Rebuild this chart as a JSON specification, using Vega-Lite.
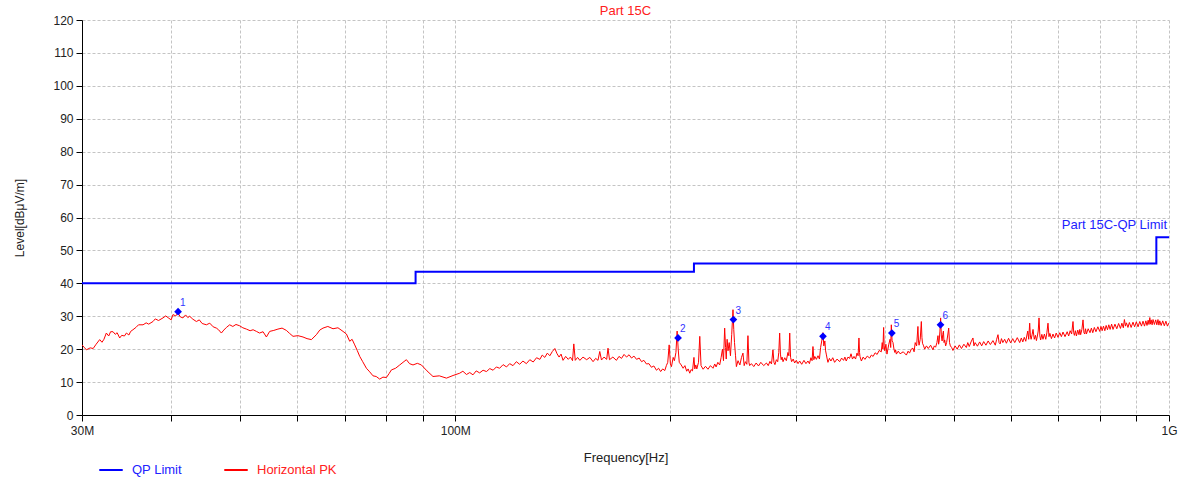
{
  "$schema": "https://vega.github.io/schema/vega-lite/v6.json",
  "width": 1087,
  "height": 395,
  "autosize": "none",
  "padding": {"left": 82, "top": 20, "right": 12, "bottom": 64},
  "background": "white",
  "config": {
    "font": "Liberation Sans",
    "view": {"stroke": null},
    "axis": {
      "labelFont": "Liberation Sans",
      "titleFont": "Liberation Sans",
      "titleFontWeight": "normal",
      "labelColor": "#222222",
      "titleColor": "#222222",
      "domainColor": "#000000",
      "tickColor": "#000000",
      "gridColor": "#c4c4c4",
      "gridDash": [3, 2],
      "gridWidth": 1
    }
  },
  "title": {
    "text": "Part 15C",
    "color": "#ff2020",
    "fontSize": 13,
    "fontWeight": "normal",
    "font": "Liberation Sans",
    "offset": -4
  },
  "datasets": {
    "trace": [
      {"f": 30, "L": 21.3}, {"f": 30.2, "L": 20.6}, {"f": 30.43, "L": 19.8}, {"f": 30.8, "L": 20.4}, {"f": 31.1, "L": 20.2}, {"f": 31.4, "L": 21.5}, {"f": 31.76, "L": 22.9}, {"f": 32.0, "L": 22.1}, {"f": 32.2, "L": 23.0}, {"f": 32.45, "L": 24.9}, {"f": 32.7, "L": 24.0}, {"f": 32.9, "L": 25.3}, {"f": 33.16, "L": 25.3}, {"f": 33.4, "L": 24.5}, {"f": 33.6, "L": 25.0}, {"f": 33.88, "L": 23.4}, {"f": 34.1, "L": 24.2}, {"f": 34.4, "L": 24.0}, {"f": 34.62, "L": 24.9}, {"f": 34.9, "L": 24.3}, {"f": 35.1, "L": 25.4}, {"f": 35.36, "L": 25.9}, {"f": 35.7, "L": 26.6}, {"f": 36.0, "L": 27.4}, {"f": 36.53, "L": 27.4}, {"f": 36.9, "L": 28.0}, {"f": 37.2, "L": 27.6}, {"f": 37.72, "L": 28.4}, {"f": 38.0, "L": 29.2}, {"f": 38.4, "L": 28.7}, {"f": 38.96, "L": 29.5}, {"f": 39.3, "L": 30.1}, {"f": 39.7, "L": 29.4}, {"f": 40.0, "L": 28.9}, {"f": 40.23, "L": 30.5}, {"f": 40.6, "L": 30.1}, {"f": 40.89, "L": 31.0}, {"f": 41.2, "L": 29.8}, {"f": 41.55, "L": 29.5}, {"f": 41.9, "L": 30.4}, {"f": 42.2, "L": 29.6}, {"f": 42.46, "L": 30.0}, {"f": 42.9, "L": 29.1}, {"f": 43.39, "L": 28.4}, {"f": 43.8, "L": 28.9}, {"f": 44.2, "L": 27.8}, {"f": 44.81, "L": 27.4}, {"f": 45.3, "L": 27.9}, {"f": 45.8, "L": 26.8}, {"f": 46.28, "L": 26.4}, {"f": 46.6, "L": 25.9}, {"f": 47.03, "L": 24.9}, {"f": 47.4, "L": 25.8}, {"f": 47.8, "L": 26.6}, {"f": 48.31, "L": 27.4}, {"f": 48.8, "L": 26.9}, {"f": 49.3, "L": 27.5}, {"f": 49.89, "L": 27.1}, {"f": 50.4, "L": 26.5}, {"f": 50.98, "L": 26.1}, {"f": 51.6, "L": 25.6}, {"f": 52.1, "L": 25.9}, {"f": 52.66, "L": 25.4}, {"f": 53.2, "L": 24.9}, {"f": 53.8, "L": 25.3}, {"f": 54.38, "L": 23.7}, {"f": 54.96, "L": 25.4}, {"f": 55.7, "L": 25.7}, {"f": 56.45, "L": 26.1}, {"f": 57.2, "L": 26.4}, {"f": 58.0, "L": 25.7}, {"f": 58.6, "L": 24.8}, {"f": 59.26, "L": 23.9}, {"f": 60.2, "L": 24.1}, {"f": 61.2, "L": 23.7}, {"f": 62.0, "L": 23.2}, {"f": 62.88, "L": 22.9}, {"f": 63.9, "L": 24.4}, {"f": 64.6, "L": 25.8}, {"f": 65.28, "L": 26.4}, {"f": 66.3, "L": 26.9}, {"f": 67.42, "L": 26.2}, {"f": 68.5, "L": 26.5}, {"f": 69.63, "L": 25.4}, {"f": 70.4, "L": 24.6}, {"f": 71.15, "L": 22.4}, {"f": 71.7, "L": 23.0}, {"f": 72.31, "L": 21.3}, {"f": 72.9, "L": 19.6}, {"f": 73.49, "L": 17.8}, {"f": 74.2, "L": 16.2}, {"f": 75.09, "L": 14.2}, {"f": 75.9, "L": 13.1}, {"f": 76.71, "L": 11.9}, {"f": 77.5, "L": 11.7}, {"f": 78.38, "L": 10.9}, {"f": 79.2, "L": 11.5}, {"f": 80.1, "L": 11.4}, {"f": 80.8, "L": 12.6}, {"f": 81.4, "L": 13.7}, {"f": 82.5, "L": 14.2}, {"f": 83.61, "L": 15.2}, {"f": 84.5, "L": 16.0}, {"f": 85.43, "L": 16.8}, {"f": 86.3, "L": 15.6}, {"f": 87.27, "L": 15.2}, {"f": 88.5, "L": 15.7}, {"f": 89.67, "L": 15.2}, {"f": 91.3, "L": 13.4}, {"f": 93.08, "L": 11.7}, {"f": 95.0, "L": 11.9}, {"f": 97.2, "L": 11.2}, {"f": 99.3, "L": 12.0},
      {"f": 101.46, "L": 12.7}, {"f": 102.5, "L": 13.3}, {"f": 103.7, "L": 12.3}, {"f": 104.8, "L": 12.9}, {"f": 105.9, "L": 12.2}, {"f": 107.0, "L": 13.4}, {"f": 108.2, "L": 12.8}, {"f": 109.4, "L": 13.6}, {"f": 110.6, "L": 13.2}, {"f": 111.8, "L": 14.1}, {"f": 113.0, "L": 13.6}, {"f": 114.2, "L": 14.6}, {"f": 115.4, "L": 14.2}, {"f": 116.7, "L": 15.3}, {"f": 118.0, "L": 14.6}, {"f": 119.2, "L": 15.6}, {"f": 120.5, "L": 15.0}, {"f": 121.8, "L": 16.2}, {"f": 123.1, "L": 15.4}, {"f": 124.4, "L": 16.4}, {"f": 125.8, "L": 15.6}, {"f": 127.2, "L": 16.8}, {"f": 128.6, "L": 16.1}, {"f": 130.0, "L": 17.4}, {"f": 131.4, "L": 16.9}, {"f": 132.4, "L": 18.2}, {"f": 133.5, "L": 17.5}, {"f": 134.6, "L": 18.8}, {"f": 135.7, "L": 18.0}, {"f": 136.8, "L": 19.3}, {"f": 137.9, "L": 20.2}, {"f": 138.9, "L": 18.6}, {"f": 139.8, "L": 17.6}, {"f": 140.7, "L": 18.5}, {"f": 141.6, "L": 16.6}, {"f": 142.8, "L": 17.8}, {"f": 144.0, "L": 16.9}, {"f": 145.0, "L": 17.6}, {"f": 146.0, "L": 16.5}, {"f": 146.6, "L": 21.6}, {"f": 147.3, "L": 16.6}, {"f": 148.4, "L": 17.5}, {"f": 149.5, "L": 16.6}, {"f": 151.0, "L": 17.6}, {"f": 152.8, "L": 16.8}, {"f": 154.4, "L": 17.5}, {"f": 156.0, "L": 16.2}, {"f": 157.3, "L": 17.2}, {"f": 158.5, "L": 16.6}, {"f": 159.4, "L": 19.3}, {"f": 160.3, "L": 16.7}, {"f": 161.6, "L": 17.6}, {"f": 163.0, "L": 16.9}, {"f": 163.7, "L": 20.3}, {"f": 164.5, "L": 16.8}, {"f": 166.3, "L": 17.6}, {"f": 168.2, "L": 16.6}, {"f": 169.6, "L": 17.8}, {"f": 171.0, "L": 17.2}, {"f": 172.4, "L": 18.4}, {"f": 173.8, "L": 17.6}, {"f": 175.2, "L": 18.3}, {"f": 176.6, "L": 17.3}, {"f": 178.0, "L": 17.9}, {"f": 179.5, "L": 16.9}, {"f": 181.0, "L": 17.3}, {"f": 182.4, "L": 16.2}, {"f": 183.8, "L": 16.6}, {"f": 185.3, "L": 15.5}, {"f": 186.8, "L": 15.6}, {"f": 188.3, "L": 14.5}, {"f": 189.8, "L": 14.9}, {"f": 191.4, "L": 13.6}, {"f": 192.7, "L": 14.2}, {"f": 194.0, "L": 13.2}, {"f": 195.3, "L": 14.0}, {"f": 196.6, "L": 13.5}, {"f": 197.6, "L": 15.0}, {"f": 198.5, "L": 16.0}, {"f": 199.4, "L": 21.3},
      {"f": 200.2, "L": 15.5}, {"f": 200.9, "L": 14.7}, {"f": 202.0, "L": 17.5}, {"f": 202.8, "L": 16.5}, {"f": 203.8, "L": 19.0}, {"f": 204.6, "L": 25.5}, {"f": 205.3, "L": 20.0}, {"f": 206.0, "L": 16.0}, {"f": 207.3, "L": 15.2}, {"f": 208.6, "L": 14.2}, {"f": 209.8, "L": 15.0}, {"f": 211.0, "L": 13.3}, {"f": 212.0, "L": 14.0}, {"f": 213.1, "L": 12.7}, {"f": 214.0, "L": 13.8}, {"f": 215.0, "L": 13.4}, {"f": 216.0, "L": 17.5}, {"f": 216.6, "L": 14.0}, {"f": 217.3, "L": 15.2}, {"f": 218.0, "L": 14.0}, {"f": 219.2, "L": 16.0}, {"f": 220.1, "L": 23.9}, {"f": 221.0, "L": 15.0}, {"f": 222.5, "L": 13.9}, {"f": 224.2, "L": 14.8}, {"f": 226.0, "L": 13.9}, {"f": 227.8, "L": 15.0}, {"f": 229.7, "L": 14.2}, {"f": 231.0, "L": 15.5}, {"f": 232.0, "L": 14.6}, {"f": 233.3, "L": 16.0}, {"f": 234.7, "L": 15.2}, {"f": 235.8, "L": 17.5}, {"f": 236.8, "L": 20.0}, {"f": 237.6, "L": 16.5}, {"f": 238.5, "L": 26.4}, {"f": 239.2, "L": 20.5}, {"f": 239.7, "L": 17.0}, {"f": 240.4, "L": 23.0}, {"f": 241.1, "L": 19.5}, {"f": 242.0, "L": 22.0}, {"f": 243.0, "L": 18.0}, {"f": 244.0, "L": 24.5}, {"f": 245.0, "L": 32.0}, {"f": 245.6, "L": 26.0}, {"f": 246.2, "L": 22.0}, {"f": 247.0, "L": 18.0}, {"f": 247.7, "L": 14.7}, {"f": 249.0, "L": 16.5}, {"f": 250.5, "L": 15.2}, {"f": 251.8, "L": 17.5}, {"f": 253.0, "L": 18.8}, {"f": 254.0, "L": 15.0}, {"f": 255.0, "L": 16.2}, {"f": 256.2, "L": 15.4}, {"f": 257.1, "L": 24.1}, {"f": 257.9, "L": 16.0}, {"f": 258.5, "L": 15.0}, {"f": 260.0, "L": 15.6}, {"f": 262.0, "L": 14.7}, {"f": 264.0, "L": 15.8}, {"f": 266.0, "L": 14.9}, {"f": 268.0, "L": 16.0}, {"f": 270.5, "L": 15.0}, {"f": 272.9, "L": 15.8}, {"f": 274.5, "L": 15.0}, {"f": 276.0, "L": 16.3}, {"f": 277.4, "L": 15.5}, {"f": 278.7, "L": 19.8}, {"f": 279.6, "L": 16.0}, {"f": 280.5, "L": 15.3}, {"f": 281.8, "L": 16.8}, {"f": 283.0, "L": 16.2}, {"f": 284.0, "L": 19.0}, {"f": 284.8, "L": 24.9}, {"f": 285.5, "L": 18.5}, {"f": 286.2, "L": 16.8}, {"f": 287.0, "L": 17.6}, {"f": 287.9, "L": 16.2}, {"f": 289.5, "L": 17.4}, {"f": 291.0, "L": 16.5}, {"f": 292.5, "L": 19.0}, {"f": 293.4, "L": 18.0}, {"f": 294.2, "L": 24.9}, {"f": 295.0, "L": 17.5}, {"f": 296.0, "L": 16.2}, {"f": 297.5, "L": 17.0}, {"f": 298.9, "L": 15.8}, {"f": 300.5, "L": 16.6}, {"f": 302.2, "L": 15.6}, {"f": 303.8, "L": 16.4}, {"f": 305.8, "L": 15.4}, {"f": 308.0, "L": 16.6}, {"f": 310.0, "L": 15.6}, {"f": 312.0, "L": 16.4}, {"f": 313.5, "L": 15.6}, {"f": 315.0, "L": 17.4}, {"f": 316.2, "L": 16.5}, {"f": 317.1, "L": 20.8}, {"f": 318.0, "L": 16.8}, {"f": 319.0, "L": 17.8}, {"f": 320.6, "L": 16.9}, {"f": 322.3, "L": 18.0}, {"f": 323.8, "L": 17.0}, {"f": 325.0, "L": 20.5}, {"f": 326.2, "L": 22.5}, {"f": 327.5, "L": 25.0}, {"f": 328.4, "L": 21.0}, {"f": 329.5, "L": 22.5}, {"f": 330.3, "L": 19.5}, {"f": 331.0, "L": 18.5}, {"f": 332.0, "L": 17.0}, {"f": 332.8, "L": 16.0}, {"f": 334.4, "L": 17.2}, {"f": 336.0, "L": 16.4}, {"f": 338.0, "L": 17.4}, {"f": 340.0, "L": 16.0}, {"f": 342.8, "L": 17.0}, {"f": 345.6, "L": 16.2}, {"f": 347.8, "L": 17.3}, {"f": 350.0, "L": 16.6}, {"f": 351.5, "L": 17.6}, {"f": 353.0, "L": 16.4}, {"f": 355.0, "L": 17.6}, {"f": 356.9, "L": 17.2}, {"f": 358.5, "L": 18.6}, {"f": 360.2, "L": 17.0}, {"f": 362.0, "L": 17.8}, {"f": 363.8, "L": 17.0}, {"f": 365.5, "L": 18.8}, {"f": 366.8, "L": 18.0}, {"f": 367.8, "L": 23.4}, {"f": 368.5, "L": 19.0}, {"f": 369.0, "L": 17.8}, {"f": 370.7, "L": 16.4}, {"f": 372.8, "L": 17.6}, {"f": 375.0, "L": 16.9}, {"f": 377.8, "L": 17.9}, {"f": 380.7, "L": 17.3}, {"f": 382.8, "L": 18.2}, {"f": 385.0, "L": 17.8}, {"f": 387.5, "L": 18.9}, {"f": 390.0, "L": 18.4}, {"f": 392.6, "L": 19.6}, {"f": 395.3, "L": 19.2}, {"f": 396.5, "L": 22.0}, {"f": 397.4, "L": 20.0}, {"f": 398.3, "L": 26.6}, {"f": 399.0, "L": 21.0}, {"f": 399.8, "L": 19.5}, {"f": 401.2, "L": 21.5}, {"f": 402.6, "L": 18.5}, {"f": 403.8, "L": 20.0}, {"f": 405.0, "L": 21.5}, {"f": 406.6, "L": 23.0}, {"f": 407.5, "L": 20.5}, {"f": 408.3, "L": 27.4}, {"f": 409.3, "L": 22.5}, {"f": 410.5, "L": 22.0}, {"f": 411.8, "L": 20.0}, {"f": 413.0, "L": 19.0}, {"f": 414.0, "L": 19.8}, {"f": 415.0, "L": 18.5}, {"f": 417.5, "L": 19.4}, {"f": 420.0, "L": 18.6}, {"f": 424.3, "L": 19.2}, {"f": 428.6, "L": 18.2}, {"f": 431.0, "L": 19.4}, {"f": 433.0, "L": 18.8}, {"f": 435.4, "L": 20.0}, {"f": 437.8, "L": 20.3}, {"f": 439.4, "L": 19.2}, {"f": 441.0, "L": 22.0}, {"f": 443.0, "L": 21.0}, {"f": 444.9, "L": 26.9}, {"f": 445.7, "L": 22.5}, {"f": 446.5, "L": 21.2}, {"f": 448.2, "L": 23.0}, {"f": 449.8, "L": 28.4}, {"f": 450.7, "L": 23.5}, {"f": 451.5, "L": 21.8}, {"f": 453.1, "L": 21.0}, {"f": 454.7, "L": 20.0}, {"f": 457.3, "L": 21.0}, {"f": 460.0, "L": 20.2}, {"f": 463.5, "L": 21.2}, {"f": 467.0, "L": 19.8}, {"f": 469.0, "L": 21.0}, {"f": 471.0, "L": 20.6}, {"f": 473.0, "L": 22.0}, {"f": 474.6, "L": 24.1}, {"f": 475.6, "L": 21.5}, {"f": 476.5, "L": 22.5}, {"f": 477.6, "L": 25.5}, {"f": 478.7, "L": 29.5}, {"f": 479.8, "L": 24.0}, {"f": 481.0, "L": 22.5}, {"f": 482.0, "L": 24.5}, {"f": 483.0, "L": 25.5}, {"f": 484.0, "L": 22.0}, {"f": 485.0, "L": 22.8}, {"f": 486.5, "L": 21.0}, {"f": 488.0, "L": 22.0}, {"f": 489.6, "L": 24.0}, {"f": 491.3, "L": 26.4}, {"f": 492.6, "L": 22.0}, {"f": 494.0, "L": 21.0}, {"f": 496.0, "L": 20.5}, {"f": 498.1, "L": 19.6},
      {"f": 501.5, "L": 21.0}, {"f": 505, "L": 20.0}, {"f": 508.5, "L": 21.3}, {"f": 512, "L": 20.2}, {"f": 516, "L": 21.5}, {"f": 520.1, "L": 20.5}, {"f": 522.5, "L": 22.0}, {"f": 525, "L": 20.8}, {"f": 528, "L": 22.2}, {"f": 531.3, "L": 23.4}, {"f": 533, "L": 21.0}, {"f": 535, "L": 22.0}, {"f": 539, "L": 20.9}, {"f": 542.9, "L": 22.2}, {"f": 546.5, "L": 21.0}, {"f": 550, "L": 22.3}, {"f": 554, "L": 21.2}, {"f": 558, "L": 22.5}, {"f": 562, "L": 21.4}, {"f": 566.7, "L": 22.6}, {"f": 571, "L": 21.2}, {"f": 573.5, "L": 23.0}, {"f": 576, "L": 24.4}, {"f": 578, "L": 22.0}, {"f": 580, "L": 21.6}, {"f": 582.5, "L": 23.2}, {"f": 585, "L": 22.0}, {"f": 588.5, "L": 23.0}, {"f": 591.8, "L": 21.8}, {"f": 596, "L": 23.3}, {"f": 600, "L": 21.9}, {"f": 604, "L": 23.2}, {"f": 608, "L": 22.0}, {"f": 613, "L": 23.5}, {"f": 617.8, "L": 22.0}, {"f": 621, "L": 23.4}, {"f": 624, "L": 22.2}, {"f": 627, "L": 23.6}, {"f": 630, "L": 22.4}, {"f": 632, "L": 24.0}, {"f": 634, "L": 25.5}, {"f": 636, "L": 23.0}, {"f": 638, "L": 27.9}, {"f": 639.5, "L": 24.0}, {"f": 641, "L": 23.0}, {"f": 643, "L": 24.4}, {"f": 644.9, "L": 26.0}, {"f": 647.5, "L": 23.0}, {"f": 650, "L": 24.2}, {"f": 652, "L": 22.6}, {"f": 654, "L": 24.0}, {"f": 655.8, "L": 25.5}, {"f": 657.5, "L": 29.5}, {"f": 659.3, "L": 24.0}, {"f": 661, "L": 22.8}, {"f": 663.5, "L": 24.5}, {"f": 666, "L": 23.0}, {"f": 669, "L": 24.6}, {"f": 672, "L": 23.0}, {"f": 674.4, "L": 25.0}, {"f": 676.8, "L": 27.9}, {"f": 679, "L": 23.8}, {"f": 681, "L": 24.8}, {"f": 684.4, "L": 23.2}, {"f": 687.8, "L": 24.6}, {"f": 691.4, "L": 23.4}, {"f": 695, "L": 24.9}, {"f": 699, "L": 23.6}, {"f": 703, "L": 25.0}, {"f": 706.7, "L": 23.8}, {"f": 710.4, "L": 25.2}, {"f": 715, "L": 23.8}, {"f": 720, "L": 25.3}, {"f": 723.5, "L": 24.0}, {"f": 727, "L": 25.6}, {"f": 730.4, "L": 24.6}, {"f": 733.7, "L": 28.4}, {"f": 735.4, "L": 25.0}, {"f": 737, "L": 24.2}, {"f": 739.4, "L": 25.6}, {"f": 741.8, "L": 24.0}, {"f": 745, "L": 25.8}, {"f": 748, "L": 24.4}, {"f": 750, "L": 26.0}, {"f": 752, "L": 24.4}, {"f": 755, "L": 26.0}, {"f": 757.8, "L": 28.9}, {"f": 760, "L": 25.0}, {"f": 762, "L": 24.6}, {"f": 764, "L": 26.2}, {"f": 766.1, "L": 24.6}, {"f": 770.5, "L": 26.2}, {"f": 775, "L": 25.0}, {"f": 778.5, "L": 26.4}, {"f": 782, "L": 25.0}, {"f": 786, "L": 26.6}, {"f": 790, "L": 25.3}, {"f": 795, "L": 26.8}, {"f": 799.7, "L": 25.4}, {"f": 803, "L": 26.9}, {"f": 806, "L": 25.6}, {"f": 809.5, "L": 27.0}, {"f": 813, "L": 25.6}, {"f": 816.5, "L": 27.2}, {"f": 820, "L": 25.9}, {"f": 823.5, "L": 27.4}, {"f": 827, "L": 26.0}, {"f": 831, "L": 27.6}, {"f": 834.8, "L": 26.0}, {"f": 840, "L": 27.6}, {"f": 845, "L": 26.2}, {"f": 850, "L": 27.8}, {"f": 855, "L": 26.3}, {"f": 859, "L": 27.9}, {"f": 863, "L": 26.5}, {"f": 866, "L": 29.0}, {"f": 869, "L": 27.0}, {"f": 871.6, "L": 28.0}, {"f": 876, "L": 26.6}, {"f": 880, "L": 28.1}, {"f": 885, "L": 26.6}, {"f": 890.4, "L": 28.2}, {"f": 895, "L": 26.8}, {"f": 900, "L": 28.3}, {"f": 905, "L": 26.8}, {"f": 910, "L": 28.4}, {"f": 915, "L": 27.0}, {"f": 919.6, "L": 28.5}, {"f": 924, "L": 27.0}, {"f": 928, "L": 28.6}, {"f": 931.5, "L": 27.2}, {"f": 935, "L": 28.8}, {"f": 937.5, "L": 27.5}, {"f": 940, "L": 29.6}, {"f": 942, "L": 27.6}, {"f": 944, "L": 28.9}, {"f": 947, "L": 27.4}, {"f": 949.8, "L": 29.0}, {"f": 954, "L": 27.5}, {"f": 958, "L": 28.9}, {"f": 961.5, "L": 27.4}, {"f": 965, "L": 29.0}, {"f": 968, "L": 27.3}, {"f": 970.6, "L": 28.6}, {"f": 975, "L": 27.2}, {"f": 980, "L": 28.6}, {"f": 985, "L": 27.1}, {"f": 990, "L": 28.5}, {"f": 995, "L": 27.0}, {"f": 1000, "L": 28.0}
    ],
    "limit": [
      {"f": 30, "L": 40}, {"f": 88, "L": 43.5}, {"f": 216, "L": 46}, {"f": 960, "L": 54}, {"f": 1000, "L": 54}
    ],
    "markers": [
      {"n": "1", "f": 40.9, "L": 31.4},
      {"n": "2", "f": 205.2, "L": 23.4},
      {"n": "3", "f": 245.3, "L": 29.0},
      {"n": "4", "f": 327.5, "L": 23.9},
      {"n": "5", "f": 409.0, "L": 24.9},
      {"n": "6", "f": 478.5, "L": 27.4}
    ],
    "limitLabel": [{"f": 1000, "L": 56.4, "t": "Part 15C-QP Limit"}]
  },
  "encoding": {
    "x": {
      "field": "f",
      "type": "quantitative",
      "scale": {"type": "log", "domain": [30, 1000], "nice": false},
      "axis": {
        "title": "Frequency[Hz]",
        "titleFontSize": 13,
        "labelFontSize": 12,
        "values": [30, 40, 50, 60, 70, 80, 90, 100, 200, 300, 400, 500, 600, 700, 800, 900, 1000],
        "labelExpr": "datum.value == 30 ? '30M' : datum.value == 100 ? '100M' : datum.value == 1000 ? '1G' : ''",
        "tickSize": 6,
        "labelPadding": 4,
        "titlePadding": 15,
        "labelFlush": false,
        "labelOverlap": false
      }
    },
    "y": {
      "field": "L",
      "type": "quantitative",
      "scale": {"domain": [0, 120], "nice": false},
      "axis": {
        "title": "Level[dBμV/m]",
        "titleFontSize": 12,
        "labelFontSize": 12,
        "values": [0, 10, 20, 30, 40, 50, 60, 70, 80, 90, 100, 110, 120],
        "tickSize": 6,
        "labelPadding": 3,
        "titlePadding": 26
      }
    }
  },
  "layer": [
    {
      "data": {"name": "trace"},
      "mark": {"type": "line", "strokeWidth": 1, "clip": true},
      "encoding": {
        "color": {
          "datum": "Horizontal PK",
          "type": "nominal",
          "scale": {"domain": ["QP Limit", "Horizontal PK"], "range": ["#0000ff", "#ff0000"]},
          "legend": {
            "title": null,
            "orient": "none",
            "direction": "horizontal",
            "legendX": 16,
            "legendY": 437,
            "symbolType": "stroke",
            "symbolSize": 550,
            "symbolStrokeWidth": 2,
            "labelFont": "Liberation Sans",
            "labelFontSize": 13,
            "labelOffset": 8,
            "columnPadding": 38,
            "labelColor": {"expr": "datum.value == 'QP Limit' ? '#2222ff' : '#ff2020'"}
          }
        }
      }
    },
    {
      "data": {"name": "limit"},
      "mark": {"type": "line", "strokeWidth": 2, "interpolate": "step-after"},
      "encoding": {
        "color": {"datum": "QP Limit", "type": "nominal"}
      }
    },
    {
      "data": {"name": "markers"},
      "mark": {"type": "point", "shape": "diamond", "filled": true, "size": 60, "color": "#0000ff", "opacity": 1}
    },
    {
      "data": {"name": "markers"},
      "mark": {"type": "text", "color": "#3333ff", "fontSize": 10, "align": "left", "dx": 2, "dy": -9},
      "encoding": {"text": {"field": "n"}}
    },
    {
      "data": {"name": "limitLabel"},
      "mark": {"type": "text", "color": "#2222ff", "fontSize": 13, "align": "right", "baseline": "alphabetic", "dx": -2},
      "encoding": {"text": {"field": "t"}}
    }
  ]
}
